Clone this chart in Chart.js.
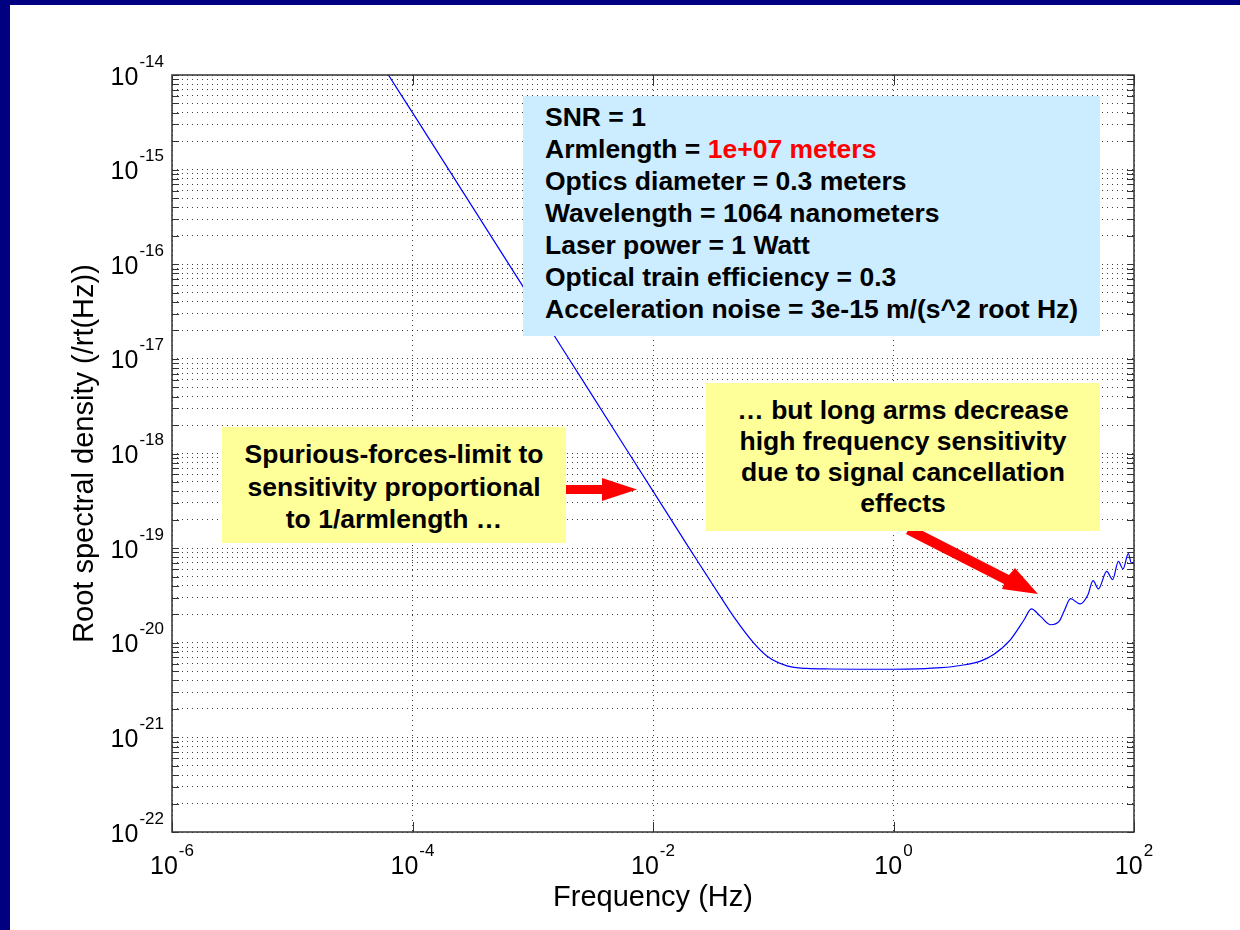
<!DOCTYPE html>
<html>
<head>
<meta charset="utf-8">
<script src="https://cdn.jsdelivr.net/npm/chart.js@4.4.0/dist/chart.umd.min.js"></script>
<style>
  body { margin: 0; background: #000080; width: 1240px; height: 930px; overflow: hidden; position: relative; font-family: "Liberation Sans", Arial, sans-serif; }
  #wrap { position: absolute; left: 10px; top: 5px; width: 1230px; height: 925px; background: #fff; }
  .note { position: absolute; font-weight: bold; font-size: 26.5px; color: #000; box-sizing: border-box; white-space: nowrap; }
  #params { left: 523px; top: 96px; width: 577px; height: 240px; background: #ccecff; padding: 5px 0 0 22px; line-height: 32px; }
  #params .red { color: #ff0000; }
  #leftNote { left: 222px; top: 427px; width: 344px; height: 116px; background: #ffff99; padding-top: 11px; line-height: 32.5px; text-align: center; }
  #rightNote { left: 706px; top: 383px; width: 394px; height: 148px; background: #ffff99; padding-top: 12px; line-height: 31px; text-align: center; }
  svg { position: absolute; left: 0; top: 0; }
</style>
</head>
<body>
<div id="wrap"><canvas id="sensChart"></canvas></div>
<svg width="1240" height="930">
  <polygon fill="#ff0000" points="560,485 602,485 602,478 637,489.5 602,501 602,494 560,494"/>
  <polygon fill="#ff0000" points="906,534 911,525 1009,575 1015,568 1038,594 1002,589 1004,584 906,534"/>
</svg>
<div class="note" id="params">
  SNR = 1<br>
  Armlength = <span class="red">1e+07 meters</span><br>
  Optics diameter = 0.3 meters<br>
  Wavelength = 1064 nanometers<br>
  Laser power = 1 Watt<br>
  Optical train efficiency = 0.3<br>
  Acceleration noise = 3e-15 m/(s^2 root Hz)
</div>
<div class="note" id="leftNote">Spurious-forces-limit to<br>sensitivity proportional<br>to 1/armlength …</div>
<div class="note" id="rightNote">… but long arms decrease<br>high frequency sensitivity<br>due to signal cancellation<br>effects</div>
<script>
// values (Hz, 1/rt(Hz))
const freqHz = [5e-5, 6.3e-5, 1e-4, 3e-4, 1e-3, 3e-3, 1e-2, 0.02, 0.028, 0.0365, 0.047, 0.069, 0.089, 0.13, 0.19,
  0.3, 0.5, 1.0, 1.6, 2.5, 3.6, 5.3, 6.8, 9.4, 12.2, 14.0, 16.7, 20.3, 23.8, 26.2, 29.7, 35.6, 41.4, 45.6,
  50.6, 59.3, 66.5, 74.1, 81.0, 89.8, 95.1, 100];
const rootSpectralDensity = [1.6e-14, 1.0e-14, 4.0e-15, 4.45e-16, 4.0e-17, 4.45e-18, 4.0e-19, 1.0e-19, 5.15e-20,
  3.05e-20, 1.88e-20, 9.9e-21, 7.2e-21, 5.7e-21, 5.35e-21, 5.28e-21, 5.25e-21, 5.25e-21, 5.3e-21, 5.45e-21,
  5.75e-21, 6.4e-21, 7.5e-21, 1.08e-20, 1.75e-20, 2.28e-20, 1.9e-20, 1.55e-20, 1.68e-20, 2.15e-20, 2.92e-20,
  2.57e-20, 3.22e-20, 4.53e-20, 3.71e-20, 5.69e-20, 4.65e-20, 7.25e-20, 6.03e-20, 8.75e-20, 6.98e-20, 7.1e-20];

const xTickValues = [1e-6, 1e-4, 1e-2, 1, 1e2];
const xTickExponents = ['-6', '-4', '-2', '0', '2'];
const yDecades = [1e-22, 1e-21, 1e-20, 1e-19, 1e-18, 1e-17, 1e-16, 1e-15, 1e-14];
const yTickExponents = ['-22', '-21', '-20', '-19', '-18', '-17', '-16', '-15', '-14'];
const yMinorSteps = [2, 3, 4, 5, 6, 7, 8, 9];

const FONT = '"Liberation Sans", Arial, sans-serif';

// all y grid values: decades plus 2..9 inside each decade
const yGridValues = [];
yDecades.forEach((d, i) => {
  yGridValues.push(d);
  if (i < yDecades.length - 1) yMinorSteps.forEach(m => yGridValues.push(d * m));
});

function drawPower(ctx, exp, x, baseline, align) {
  ctx.font = '25px ' + FONT;
  const w10 = ctx.measureText('10').width;
  ctx.font = '17px ' + FONT;
  const wExp = ctx.measureText(exp).width;
  const total = w10 + 1 + wExp;
  let start = align === 'right' ? x - total : x - total / 2;
  ctx.textAlign = 'left';
  ctx.textBaseline = 'alphabetic';
  ctx.fillStyle = '#000';
  ctx.font = '25px ' + FONT;
  ctx.fillText('10', start, baseline);
  ctx.font = '17px ' + FONT;
  ctx.fillText(exp, start + w10 + 1, baseline - 18);
}

const matlabAxes = {
  id: 'matlabAxes',
  afterDraw(chart) {
    const ctx = chart.ctx;
    const a = chart.chartArea;
    const xs = chart.scales.x, ys = chart.scales.y;
    ctx.save();
    ctx.strokeStyle = '#333';
    ctx.lineWidth = 1;
    ctx.beginPath();
    yGridValues.forEach(v => {
      const y = Math.round(ys.getPixelForValue(v)) + 0.5;
      ctx.moveTo(a.left, y); ctx.lineTo(a.left + 7, y);
      ctx.moveTo(a.right, y); ctx.lineTo(a.right - 7, y);
    });
    xTickValues.forEach(v => {
      const x = Math.round(xs.getPixelForValue(v)) + 0.5;
      ctx.moveTo(x, a.bottom); ctx.lineTo(x, a.bottom - 10);
      ctx.moveTo(x, a.top); ctx.lineTo(x, a.top + 10);
    });
    ctx.stroke();
    ctx.lineWidth = 1.5;
    ctx.strokeRect(a.left, a.top, a.right - a.left, a.bottom - a.top);
    yDecades.forEach((v, i) => {
      drawPower(ctx, yTickExponents[i], a.left - 8, ys.getPixelForValue(v) + 9.5, 'right');
    });
    xTickValues.forEach((v, i) => {
      drawPower(ctx, xTickExponents[i], xs.getPixelForValue(v), a.bottom + 41.5, 'center');
    });
    ctx.restore();
  }
};

new Chart(document.getElementById('sensChart'), {
  type: 'line',
  data: {
    datasets: [{
      data: freqHz.map((f, i) => ({ x: f, y: rootSpectralDensity[i] })),
      borderColor: '#0000ff',
      borderWidth: 1.2,
      pointRadius: 0,
      cubicInterpolationMode: 'monotone',
      fill: false
    }]
  },
  options: {
    responsive: true,
    maintainAspectRatio: false,
    animation: false,
    layout: { padding: { top: 70, right: 106, left: 0, bottom: 0 } },
    plugins: { legend: { display: false }, tooltip: { enabled: false } },
    scales: {
      x: {
        type: 'logarithmic',
        min: 1e-6,
        max: 1e2,
        afterBuildTicks: s => { s.ticks = xTickValues.map(v => ({ value: v })); },
        afterFit: s => { s.height = 98; },
        ticks: { display: false },
        grid: { color: 'rgba(0,0,0,0.75)', lineWidth: 1, drawTicks: false },
        border: { display: false, dash: [1, 4] },
        title: { display: true, text: 'Frequency (Hz)', color: '#000', font: { family: FONT, size: 29 }, padding: { top: 0, bottom: 15 } }
      },
      y: {
        type: 'logarithmic',
        min: 1e-22,
        max: 1e-14,
        afterBuildTicks: s => { s.ticks = yGridValues.map(v => ({ value: v })); },
        afterFit: s => { s.width = 162; },
        ticks: { display: false },
        grid: { color: 'rgba(0,0,0,0.75)', lineWidth: 1, drawTicks: false },
        border: { display: false, dash: [1, 4] },
        title: { display: true, text: 'Root spectral density (/rt(Hz))', color: '#000', font: { family: FONT, size: 29 }, padding: { top: 58, bottom: 0 } }
      }
    }
  },
  plugins: [matlabAxes]
});
</script>
</body>
</html>
